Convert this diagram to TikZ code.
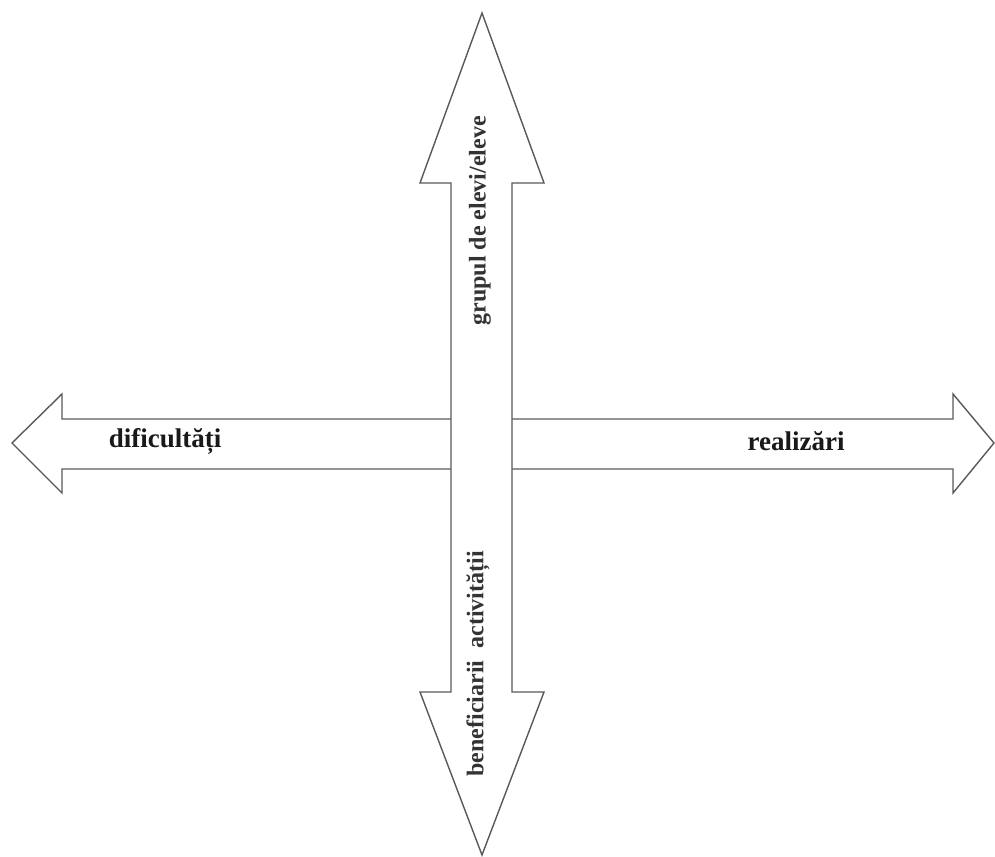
\documentclass[tikz,border=0pt]{standalone}
\usepackage{fontspec}
\setmainfont{Liberation Serif}
\begin{document}
\begin{tikzpicture}[x=1pt,y=1pt,
  arrowshape/.style={draw=black!65, line width=1.4pt, fill=white, line join=miter},
  hlabel/.style={font=\fontsize{27}{30}\selectfont\bfseries, text=black!90, inner sep=0pt},
  vlabel/.style={font=\fontsize{24}{28}\selectfont\bfseries, text=black!80, inner sep=0pt, rotate=90}]
\useasboundingbox (0,0) rectangle (995,856);
% horizontal double arrow
\draw[arrowshape] (12,413) -- (62,462) -- (62,437) -- (953,437) -- (953,462) -- (994,413)
  -- (953,363) -- (953,387) -- (62,387) -- (62,363) -- cycle;
% vertical double arrow
\draw[arrowshape] (482,843) -- (544,673) -- (512,673) -- (512,164) -- (544,164) -- (482,1)
  -- (420,164) -- (451,164) -- (451,673) -- (420,673) -- cycle;
\node[hlabel] (dif) at (165,415) {dificultăți};
\node[hlabel] (real) at (796,415) {realizări};
\node[vlabel] (grup) at (480,635) {grupul de elevi/eleve};
\node[vlabel] (benef) at (478,192) {beneficiarii\ \ activității};
\end{tikzpicture}
\end{document}
